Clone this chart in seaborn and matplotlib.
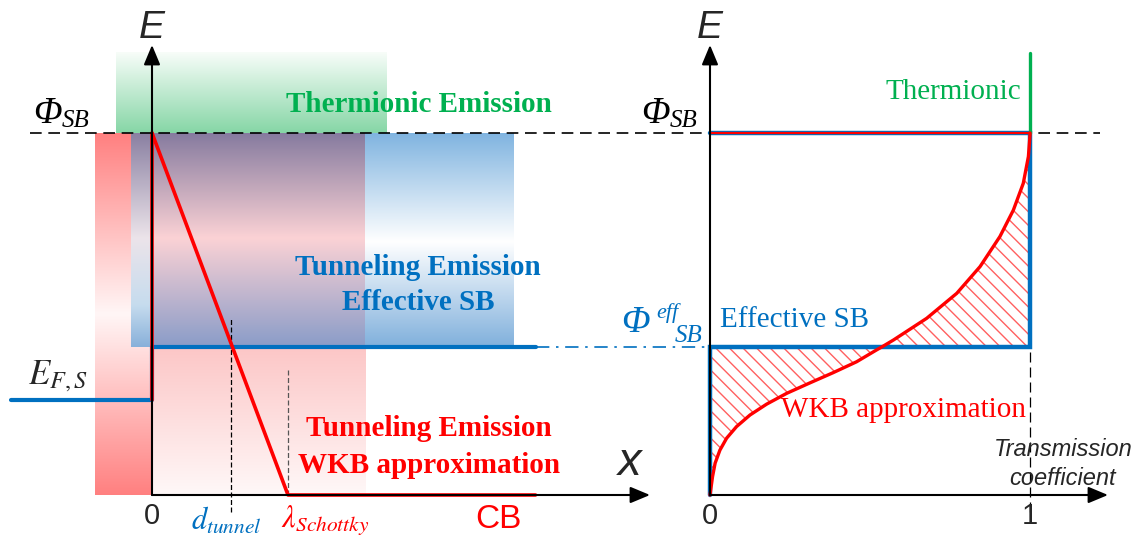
import numpy as np
import matplotlib
matplotlib.use('Agg')
import matplotlib.pyplot as plt
from matplotlib.colors import to_rgb
import seaborn as sns

sns.set_style('white')
plt.rcParams['font.family'] = ['Liberation Serif', 'DejaVu Serif']
plt.rcParams['mathtext.fontset'] = 'stix'

# energy levels (units of Phi_SB) and positions (units of lambda_Schottky)
phi_sb = 1.0
phi_eff = 0.409
e_f = 0.262
lam_schottky = 1.0
d_tunnel = 0.58
cb_end = 2.82
ef_start = -1.04

# transmission coefficient vs energy (right panel)
T_curve = [0.0, 0.008, 0.016, 0.031, 0.052, 0.083, 0.125, 0.177, 0.240, 0.313,
           0.385, 0.458, 0.521, 0.537, 0.573, 0.677, 0.771, 0.844, 0.906, 0.948,
           0.979, 0.995, 1.0, 1.0]
E_curve = [0.0, 0.051, 0.088, 0.124, 0.157, 0.189, 0.221, 0.251, 0.281, 0.310,
           0.338, 0.368, 0.401, 0.409, 0.428, 0.488, 0.557, 0.631, 0.714, 0.787,
           0.861, 0.935, 0.994, 1.0]

BLUE = '#0070c0'
RED = '#ff0000'
GREEN = '#00b050'
SANS = 'Liberation Sans'


# pixel helpers for layout only
def lx(px):
    return (px - 152) / 136


def rx(px):
    return (px - 710) / 320


def ey(py):
    return (495 - py) / 362


def vgrad(ax, x0, x1, e0, e1, stops, z=0):
    es = np.linspace(e1, e0, 300)
    pos = np.array([s[0] for s in stops])
    cols = np.array([to_rgb(s[1]) for s in stops])
    o = np.argsort(pos)
    img = np.stack([np.interp(es, pos[o], cols[o, k]) for k in range(3)], axis=-1)[:, None, :]
    ax.imshow(img, extent=[x0, x1, e0, e1], aspect='auto', origin='upper',
              interpolation='bilinear', zorder=z)


def arrow(ax, xy, xytext):
    ax.annotate('', xy=xy, xytext=xytext,
                arrowprops=dict(arrowstyle='-|>,head_length=0.6,head_width=0.25',
                                color='k', lw=1.5, mutation_scale=20,
                                shrinkA=0, shrinkB=0), zorder=6)


def phi_label(ax, x, y, sub, sub_xy, sup=None, sup_xy=None, color='k'):
    # italic Phi with italic sub/superscript, baseline anchored
    ax.text(x, y, '\u03a6', fontsize=27, style='italic', color=color, ha='left', va='baseline')
    ax.text(sub_xy[0], sub_xy[1], sub, fontsize=18, style='italic', color=color,
            ha='left', va='baseline')
    if sup:
        ax.text(sup_xy[0], sup_xy[1], sup, fontsize=16, style='italic', color=color,
                ha='left', va='baseline')


def hatch_region(ax, coll, spacing_px=13.6):
    # diagonal red hatching clipped to the filled region
    path = coll.get_paths()[0]
    slope = 362 / 320
    ee = np.array([-0.2, 1.2])
    for c in np.arange(-0.5, 2.5, spacing_px / 320):
        ln, = ax.plot(c - ee * slope, ee, color='#ff6060', lw=1.0, zorder=2)
        ln.set_clip_path(path, ax.transData)


fig = plt.figure(figsize=(11.43, 5.40), dpi=100)
axl = fig.add_axes([0, 0, 700 / 1143, 1])
axr = fig.add_axes([700 / 1143, 0, 443 / 1143, 1])
for ax in (axl, axr):
    ax.set_axis_off()
    ax.patch.set_visible(False)

# ---- left panel: band diagram ----
vgrad(axl, lx(95), 0, 0, phi_sb, [(0, '#ff8080'), (0.5, '#fff6f6'), (phi_sb, '#ff8080')])
vgrad(axl, lx(131), 0, phi_eff, phi_sb,
      [(phi_eff, '#88b0da'), (0.525, '#c6dcee'), (0.71, '#ece4ea'), (phi_sb, '#8a80a2')], z=1)
vgrad(axl, 0, lx(365), phi_eff, phi_sb,
      [(phi_eff, '#8a9cc8'), (0.71, '#fbd2d5'), (phi_sb, '#867b9f')], z=1)
vgrad(axl, lx(365), lx(514), phi_eff, phi_sb,
      [(phi_eff, '#80b0dc'), (0.70, '#ffffff'), (phi_sb, '#80b4e0')], z=1)
vgrad(axl, 0, lx(365), 0, phi_eff, [(0, '#fff8f8'), (phi_eff, '#fcc6c6')], z=1)
vgrad(axl, lx(116), lx(386), phi_sb, ey(53), [(phi_sb, '#86d6a6'), (ey(53), '#f8fdf9')], z=1)

# axes
arrow(axl, (0, ey(45)), (0, 0))
arrow(axl, (lx(650), 0), (0, 0))

# Phi_SB dashed level across both panels
axl.plot([lx(30), lx(1100)], [phi_sb, phi_sb], color='k', lw=1.2,
         dashes=(7, 4), clip_on=False, zorder=7)
# effective barrier dash-dot continuation
axl.plot([cb_end, lx(710)], [phi_eff, phi_eff], color=BLUE, lw=1.2,
         dashes=(8, 4, 1.5, 4), clip_on=False, zorder=4)

# thin markers
axl.plot([d_tunnel, d_tunnel], [ey(512), ey(318)], color='k', lw=0.9, dashes=(4, 2), zorder=3)
axl.plot([lam_schottky, lam_schottky], [0, ey(370)], color='#555555', lw=0.9, dashes=(4, 2), zorder=3)

# blue: Fermi level and effective barrier
axl.plot([ef_start, 0, 0, cb_end], [e_f, e_f, phi_eff, phi_eff], color=BLUE, lw=3.0,
         solid_capstyle='round', zorder=4)
# red: Schottky barrier
axl.plot([0, 0], [e_f, phi_sb], color=RED, lw=2.6, zorder=5)
axl.plot([0, lam_schottky, cb_end], [phi_sb, 0, 0], color=RED, lw=2.6,
         solid_capstyle='round', zorder=5)

axl.text(0, ey(38), 'E', fontsize=28, family=SANS, style='italic', ha='center', va='baseline')
phi_label(axl, lx(33), ey(123), 'SB', (lx(62), ey(127)))
axl.text(lx(58), ey(376), r'$E_{F,S}$', fontsize=25, ha='center', va='center')
axl.text(lx(419), ey(104), 'Thermionic Emission', fontsize=21, weight='bold',
         color=GREEN, ha='center', va='center')
axl.text(lx(418), ey(285), 'Tunneling Emission\nEffective SB', fontsize=21, weight='bold',
         color=BLUE, ha='center', va='center', linespacing=1.34)
axl.text(lx(429), ey(447), 'Tunneling Emission\nWKB approximation', fontsize=21,
         weight='bold', color=RED, ha='center', va='center', linespacing=1.45)
axl.text(0, ey(516), '0', fontsize=21, family=SANS, ha='center', va='center')
axl.text(lx(226), ey(521), r'$d_{tunnel}$', fontsize=22, color=BLUE, ha='center', va='center')
axl.text(lx(325), ey(521), r'$\lambda_{Schottky}$', fontsize=22, color=RED, ha='center', va='center')
axl.text(lx(498), ey(519), 'CB', fontsize=24, family=SANS, color=RED, ha='center', va='center')
axl.text(lx(630), ey(475), 'x', fontsize=34, family=SANS, style='italic', ha='center', va='baseline')

axl.set_xlim(lx(0), lx(700))
axl.set_ylim(ey(540), ey(0))

# ---- right panel: transmission coefficient ----
T = np.array(T_curve)
E = np.array(E_curve)
low = axr.fill_betweenx(E, 0, T, where=E <= phi_eff, facecolor='none', linewidth=0)
high = axr.fill_betweenx(E, T, 1, where=E >= phi_eff, facecolor='none', linewidth=0)
hatch_region(axr, low)
hatch_region(axr, high)

arrow(axr, (0, ey(45)), (0, 0))
arrow(axr, (rx(1108), 0), (0, 0))
axr.plot([1, 1], [ey(512), phi_eff], color='k', lw=0.9, dashes=(8, 4), zorder=3)

axr.plot([0, 0, 1, 1, 0], [0, phi_eff, phi_eff, phi_sb, phi_sb], color=BLUE, lw=3.2,
         solid_joinstyle='miter', zorder=4)
axr.plot([0, 1], [phi_sb, phi_sb], color=RED, lw=1.6, zorder=5)
axr.plot(T, E, color=RED, lw=2.4, zorder=5)
axr.plot([1, 1], [phi_sb, ey(53)], color=GREEN, lw=2.4, zorder=4)

axr.text(0, ey(38), 'E', fontsize=28, family=SANS, style='italic', ha='center', va='baseline')
phi_label(axr, rx(641), ey(123), 'SB', (rx(670), ey(127)))
axr.text(rx(1021), ey(92), 'Thermionic', fontsize=21, color=GREEN, ha='right', va='center')
phi_label(axr, rx(621), ey(332), 'SB', (rx(675), ey(342)), sup='eff', sup_xy=(rx(656), ey(318)),
          color=BLUE)
axr.text(rx(720), ey(320), 'Effective SB', fontsize=21, color=BLUE, ha='left', va='center')
axr.text(rx(781), ey(410), 'WKB approximation', fontsize=21, color=RED, ha='left', va='center')
axr.text(rx(1063), ey(464), 'Transmission\ncoefficient', fontsize=17, family=SANS,
         style='italic', ha='center', va='center', linespacing=1.38)
axr.text(0, ey(516), '0', fontsize=21, family=SANS, ha='center', va='center')
axr.text(1, ey(516), '1', fontsize=21, family=SANS, ha='center', va='center')

axr.set_xlim(rx(700), rx(1143))
axr.set_ylim(ey(540), ey(0))

fig.savefig('out.png', dpi=100)
